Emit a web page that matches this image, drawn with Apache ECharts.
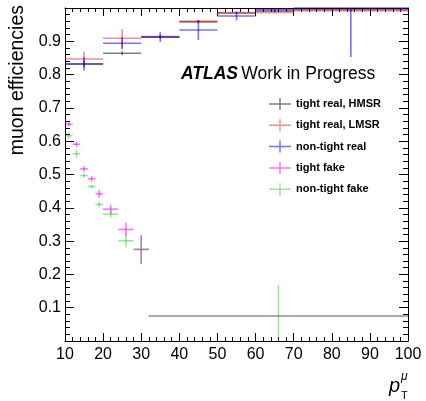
<!DOCTYPE html>
<html><head><meta charset="utf-8">
<script src="https://cdn.jsdelivr.net/npm/echarts@6/dist/echarts.min.js"></script>
<style>html,body{margin:0;padding:0;background:#fff}#c{width:426px;height:401px}</style>
</head><body><div id="c"></div>
<script>
// ---- data ----
const realEdges = [10, 20, 30, 40, 50, 60, 70, 100];
const fakeEdges = [10, 12, 14, 16, 18, 20, 24, 28, 32, 100];

const tightRealHMSR    = [0.832, 0.864, 0.913, 0.959, 0.985, 0.991, 0.995];
const tightRealHMSRErr = [0.010, 0.006, 0.005, 0.005, 0.003, 0.003, 0.003];
const tightRealLMSR    = [0.847, 0.909, 0.914, 0.959, 0.986, 0.987, 0.992];
const tightRealLMSRErr = [0.022, 0.028, 0.005, 0.004, 0.003, 0.003, 0.003];
const nonTightReal     = [0.832, 0.894, 0.913, 0.934, 0.976, 0.995, 1.000];
const nonTightRealErr  = [0.020, 0.018, 0.015, 0.030, 0.013, 0.005, 0.147];

const tightFake        = [0.651, 0.591, 0.517, 0.487, 0.442, 0.396, 0.335, 0.275, 0.075];
const tightFakeErr     = [0.007, 0.008, 0.008, 0.008, 0.012, 0.013, 0.020, 0.044, 0.000];
const nonTightFake     = [0.617, 0.562, 0.497, 0.464, 0.410, 0.381, 0.301, 0.275, 0.075];
const nonTightFakeErr  = [0.010, 0.012, 0.006, 0.005, 0.008, 0.010, 0.018, 0.040, 0.093];

const seriesNames = ['tight real, HMSR', 'tight real, LMSR', 'non-tight real', 'tight fake', 'non-tight fake'];
const xTickStep = 10;
const yTickStep = 0.1;

// ---- build ----
const FONT = '"Liberation Sans", Arial, Helvetica, sans-serif';
const colors = ['rgba(0,0,0,0.5)', 'rgba(255,0,0,0.45)', 'rgba(0,0,255,0.55)', 'rgba(255,0,255,0.55)', 'rgba(0,190,0,0.4)'];

function toItems(edges, vals, errs) {
  return vals.map((v, i) => [edges[i], edges[i + 1], v, errs[i]]);
}
const sets = [
  toItems(realEdges, tightRealHMSR, tightRealHMSRErr),
  toItems(realEdges, tightRealLMSR, tightRealLMSRErr),
  toItems(realEdges, nonTightReal, nonTightRealErr),
  toItems(fakeEdges, tightFake, tightFakeErr),
  toItems(fakeEdges, nonTightFake, nonTightFakeErr)
];

function makeRender(color) {
  return function (params, api) {
    const xlo = api.value(0), xhi = api.value(1), y = api.value(2), e = api.value(3);
    const xc = (xlo + xhi) / 2;
    const cl = v => Math.max(0, Math.min(1, v));
    const p1 = api.coord([xlo, y]), p2 = api.coord([xhi, y]);
    const pt = api.coord([xc, cl(y + e)]), pb = api.coord([xc, cl(y - e)]);
    return {
      type: 'group', children: [
        { type: 'line', shape: { x1: p1[0], y1: p1[1], x2: p2[0], y2: p2[1] }, style: { stroke: color, lineWidth: 1.6 } },
        { type: 'line', shape: { x1: pt[0], y1: pt[1], x2: pb[0], y2: pb[1] }, style: { stroke: color, lineWidth: 1.6 } }
      ]
    };
  };
}

const series = sets.map((d, i) => ({
  name: seriesNames[i],
  type: 'custom',
  xAxisIndex: 0, yAxisIndex: 0,
  clip: false,
  itemStyle: { color: colors[i] },
  renderItem: makeRender(colors[i]),
  encode: { x: [0, 1], y: 2 },
  data: d
}));

const axLine = { show: true, onZero: false, lineStyle: { color: '#000', width: 1 } };
function xAx(pos, labels) {
  return {
    type: 'value', min: 10, max: 100, interval: xTickStep, position: pos,
    axisLine: axLine,
    axisTick: { show: true, inside: true, length: 8, lineStyle: { color: '#000' } },
    minorTick: { show: true, splitNumber: 5, length: 4, lineStyle: { color: '#000' } },
    splitLine: { show: false },
    axisLabel: { show: labels, fontSize: 16, color: '#000', fontFamily: FONT, margin: 6 }
  };
}
function yAx(pos, labels) {
  return {
    type: 'value', min: 0, max: 1, interval: yTickStep, position: pos,
    axisLine: axLine,
    axisTick: { show: true, inside: true, length: 9, lineStyle: { color: '#000' } },
    minorTick: { show: true, splitNumber: 5, length: 5, lineStyle: { color: '#000' } },
    splitLine: { show: false },
    axisLabel: { show: labels, fontSize: 16, color: '#000', fontFamily: FONT, margin: 4, showMinLabel: false, showMaxLabel: false }
  };
}

const chart = echarts.init(document.getElementById('c'), null, { renderer: 'canvas' });
chart.setOption({
  animation: false,
  backgroundColor: '#fff',
  grid: { left: 65, right: 18, top: 8, bottom: 60 },
  xAxis: [xAx('bottom', true), xAx('top', false)],
  yAxis: [yAx('left', true), yAx('right', false)],
  legend: {
    orient: 'vertical', left: 264, top: 93,
    itemWidth: 22, itemHeight: 12, itemGap: 9.3,
    icon: 'path://M0,5.25H22V6.75H0Z M10.25,0H11.75V12H10.25Z',
    textStyle: { fontFamily: FONT, fontWeight: 'bold', fontSize: 11, color: '#000' },
    data: seriesNames
  },
  graphic: [
    { type: 'text', x: 181, y: 74, style: {
        text: '{a|ATLAS} {b|Work in Progress}', verticalAlign: 'middle',
        rich: { a: { fontStyle: 'italic', fontWeight: 'bold', fontSize: 17.5, fontFamily: FONT, fill: '#000' },
                b: { fontSize: 17.5, fontFamily: FONT, fill: '#000' } } } },
    { type: 'text', x: 18, y: 5, rotation: Math.PI / 2, style: {
        text: 'muon efficiencies', align: 'right', verticalAlign: 'middle', fontSize: 19.5, fontFamily: FONT, fill: '#000' } },
    { type: 'text', x: 389, y: 386, style: { text: 'p', fontStyle: 'italic', fontSize: 20, fontFamily: FONT, fill: '#000', verticalAlign: 'middle' } },
    { type: 'text', x: 401, y: 377, style: { text: 'μ', fontStyle: 'italic', fontSize: 12, fontFamily: FONT, fill: '#000', verticalAlign: 'middle' } },
    { type: 'text', x: 401, y: 396, style: { text: 'T', fontSize: 11, fontFamily: FONT, fill: '#000', verticalAlign: 'middle' } }
  ],
  series: series
});
</script></body></html>
